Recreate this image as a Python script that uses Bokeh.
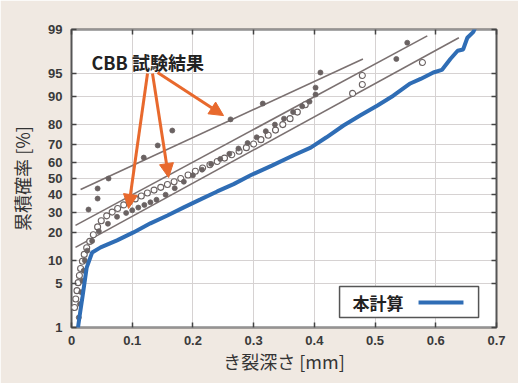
from statistics import NormalDist
from bokeh.plotting import figure
from bokeh.models import (Range1d, FixedTicker, CustomJSTickFormatter, LinearAxis,
                          Arrow, NormalHead, Label, BoxAnnotation, ColumnDataSource)
from bokeh.embed import file_html
from bokeh.resources import INLINE

# ---------------- data ----------------
y_tick_labels = ["1", "5", "10", "20", "30", "40", "50", "60", "70", "80", "90", "95", "99"]
y_tick_pct = [1, 5, 10, 20, 30, 40, 50, 60, 70, 80, 90, 95, 99]
x_ticks = [0, 0.1, 0.2, 0.3, 0.4, 0.5, 0.6, 0.7]

# 本計算 (calculation) curve
calc_x = [0.008, 0.013, 0.018, 0.025, 0.034, 0.048, 0.075, 0.102, 0.13, 0.158, 0.185, 0.2125,
          0.24, 0.267, 0.295, 0.33, 0.365, 0.394, 0.42, 0.448, 0.476, 0.504, 0.53, 0.558,
          0.575, 0.596, 0.61, 0.624, 0.636, 0.645, 0.652, 0.662, 0.672]
calc_p = [0.6, 1.5, 3.2, 8.2, 12.4, 14.1, 16.7, 20.0, 24.2, 28.2, 32.6, 37.2,
          42.0, 46.5, 52.0, 58.0, 64.0, 68.5, 74.0, 79.6, 83.8, 87.3, 90.2, 93.1,
          94.0, 95.1, 95.5, 96.9, 97.7, 97.8, 98.6, 98.9, 99.4]

# CBB test results: fitted lines
fitA_x = [0.015, 0.48]
fitA_p = [43.2, 96.9]
fitB_x = [0.0066, 0.586]
fitB_p = [23.2, 98.7]
fitC_x = [0.0066, 0.638]
fitC_p = [14.1, 98.6]

# CBB test results: series A (filled, upper)
cbbA_x = [0.028, 0.043, 0.043, 0.061, 0.119, 0.142, 0.166, 0.262, 0.315, 0.41]
cbbA_p = [31.4, 37.7, 43.8, 50.0, 62.8, 69.7, 77.3, 82.2, 87.9, 95.1]

# CBB test results: series B (filled)
cbbB_x = [0.012, 0.014, 0.016, 0.018, 0.020, 0.022, 0.026, 0.034, 0.045, 0.06, 0.075, 0.09,
          0.1, 0.11, 0.12, 0.13, 0.14, 0.155, 0.17, 0.185, 0.2, 0.215, 0.23, 0.245, 0.26,
          0.275, 0.29, 0.305, 0.32, 0.335, 0.35, 0.365, 0.38, 0.392, 0.402, 0.402, 0.535, 0.553]
cbbB_p = [1.5, 2.5, 3.8, 5.5, 7.5, 10.0, 13.0, 16.5, 20.5, 24.0, 27.5, 29.5,
          31.0, 32.5, 34.0, 35.5, 37.0, 40.0, 44.0, 48.0, 52.0, 55.5, 59.0, 62.0, 65.0,
          68.0, 71.0, 74.0, 77.0, 80.0, 82.5, 85.0, 87.0, 88.5, 90.5, 92.2, 96.9, 98.3]

# CBB test results: series C (open circles)
cbbC_x = [0.005, 0.007, 0.009, 0.011, 0.013, 0.015, 0.018, 0.021, 0.025, 0.030, 0.036, 0.043,
          0.049, 0.058, 0.067, 0.076, 0.086, 0.095, 0.105, 0.115, 0.125, 0.136, 0.147, 0.158,
          0.169, 0.18, 0.192, 0.204, 0.216, 0.228, 0.24, 0.252, 0.264, 0.276, 0.288, 0.30,
          0.312, 0.324, 0.336, 0.348, 0.36, 0.372, 0.385, 0.463, 0.479, 0.479, 0.578]
cbbC_p = [2.2, 3.0, 4.0, 5.2, 6.5, 8.0, 9.8, 11.8, 14.0, 16.3, 19.0, 22.5,
          25.5, 28.0, 30.0, 32.0, 34.0, 35.8, 37.5, 39.2, 41.0, 42.8, 44.5, 46.3,
          48.0, 50.0, 52.2, 54.5, 56.5, 58.5, 60.5, 62.5, 64.5, 66.5, 68.5, 70.5,
          72.8, 75.0, 77.5, 80.0, 82.5, 85.0, 87.5, 90.8, 92.9, 94.6, 96.5]

# annotation arrows (start/end in mm and %)
arrow_x0 = [0.1252, 0.1334, 0.1417]
arrow_p0 = [94.95, 94.95, 95.1]
arrow_x1 = [0.0939, 0.160, 0.2504]
arrow_p1 = [32.0, 50.6, 83.7]

# ---------------- helpers ----------------
nd = NormalDist()


def probit(vals):
    return [nd.inv_cdf(v / 100.0) for v in vals]


ORANGE = "#e8692d"
BLUE = "#2f6db5"
GREY = "#7b7171"
DOT = "#6a6262"
JP = "Noto Sans CJK JP"
NUM = "Liberation Sans"

y_tick_z = probit(y_tick_pct)
z_lo, z_hi = y_tick_z[0], y_tick_z[-1]

p = figure(width=518, height=383, output_backend="svg", toolbar_location=None,
           x_range=Range1d(0, 0.7), y_range=Range1d(z_lo - 1e-9, z_hi + 1e-9),
           min_border_left=71, min_border_right=22, min_border_top=29, min_border_bottom=56,
           background_fill_color="white", border_fill_color="#f0e9e2",
           outline_line_color="#555555", outline_line_width=2)

label_js = """
let best = 0;
for (let i = 0; i < zs.length; i++) {
  if (Math.abs(zs[i] - tick) < Math.abs(zs[best] - tick)) best = i;
}
return labels[best];
"""

# main axes
p.xaxis.ticker = FixedTicker(ticks=x_ticks)
p.yaxis.ticker = FixedTicker(ticks=y_tick_z)
p.yaxis.formatter = CustomJSTickFormatter(args=dict(zs=y_tick_z, labels=y_tick_labels), code=label_js)
for ax in (p.xaxis[0], p.yaxis[0]):
    ax.axis_line_color = None
    ax.major_tick_in = 5
    ax.major_tick_out = 0
    ax.major_tick_line_color = "#444444"
    ax.major_tick_line_width = 1.5
    ax.minor_tick_line_color = None
    ax.major_label_text_font = NUM
    ax.major_label_text_font_style = "bold"
    ax.major_label_text_font_size = "13px"
    ax.major_label_text_color = "#3a3a3a"
    ax.axis_label_text_font = JP
    ax.axis_label_text_font_style = "normal"
    ax.axis_label_text_font_size = "18px"
    ax.axis_label_text_color = "#333333"

p.xaxis.axis_label = "き裂深さ [mm]"
p.yaxis.axis_label = "累積確率 [%]"
p.xaxis.major_label_standoff = 8
p.xaxis.axis_label_standoff = 0
p.yaxis.major_label_standoff = 9
p.yaxis.axis_label_standoff = 10

# mirrored tick-only axes
top_ax = LinearAxis(ticker=FixedTicker(ticks=x_ticks), formatter=CustomJSTickFormatter(code="return '';"))
right_ax = LinearAxis(ticker=FixedTicker(ticks=y_tick_z), formatter=CustomJSTickFormatter(code="return '';"))
for ax in (top_ax, right_ax):
    ax.axis_line_color = None
    ax.major_tick_in = 5
    ax.major_tick_out = 0
    ax.major_tick_line_color = "#444444"
    ax.major_tick_line_width = 1.5
    ax.minor_tick_line_color = None
    ax.major_label_text_font_size = "0px"
    ax.major_label_standoff = 0
p.add_layout(top_ax, "above")
p.add_layout(right_ax, "right")

# grid
p.xgrid.ticker = FixedTicker(ticks=x_ticks)
p.ygrid.ticker = FixedTicker(ticks=y_tick_z)
p.xgrid.grid_line_color = "#d6d2d2"
p.ygrid.grid_line_color = "#d6d2d2"
p.grid.grid_line_width = 1

# fitted lines
for fx, fp in ((fitA_x, fitA_p), (fitB_x, fitB_p), (fitC_x, fitC_p)):
    p.line(fx, probit(fp), line_color=GREY, line_width=1.6)

# scatter
p.scatter(cbbC_x, probit(cbbC_p), marker="circle", size=6, fill_color="white",
          line_color=DOT, line_width=1.1)
p.scatter(cbbB_x, probit(cbbB_p), marker="circle", size=5, fill_color=DOT,
          line_color=DOT, line_width=0.8)
p.scatter(cbbA_x, probit(cbbA_p), marker="circle", size=5, fill_color=DOT,
          line_color=DOT, line_width=0.8)

# calculation curve
p.line(calc_x, probit(calc_p), line_color=BLUE, line_width=4)

# annotation: CBB test results
p.add_layout(Label(x=0.033, y=nd.inv_cdf(0.965), text="CBB 試験結果", text_font=JP,
                   text_font_style="bold", text_font_size="18px", text_color="#222222",
                   text_baseline="middle", text_align="left"))
arr_src = ColumnDataSource(dict(x0=arrow_x0, y0=probit(arrow_p0), x1=arrow_x1, y1=probit(arrow_p1)))
p.add_layout(Arrow(source=arr_src, x_start="x0", y_start="y0", x_end="x1", y_end="y1",
                   line_color=ORANGE, line_width=3,
                   end=NormalHead(size=14, fill_color=ORANGE, line_color=ORANGE)))

# custom legend (text then line sample)
leg_top = (178 - 286) / 64.06
leg_bot = (178 - 317) / 64.06
leg_mid = (178 - 302) / 64.06
p.add_layout(BoxAnnotation(left=0.4415, right=0.6705, top=leg_top, bottom=leg_bot,
                           fill_color="white", fill_alpha=1.0, line_color="#555555",
                           line_width=1.5, line_alpha=1.0))
p.add_layout(Label(x=0.463, y=leg_mid, text="本計算", text_font=JP, text_font_style="bold",
                   text_font_size="17px", text_color="#222222", text_baseline="middle"))
p.add_layout(Arrow(x_start=0.5716, y_start=leg_mid, x_end=0.6456, y_end=leg_mid,
                   line_color=BLUE, line_width=4, start=None, end=None))

open("out.html", "w").write(file_html(p, INLINE))
